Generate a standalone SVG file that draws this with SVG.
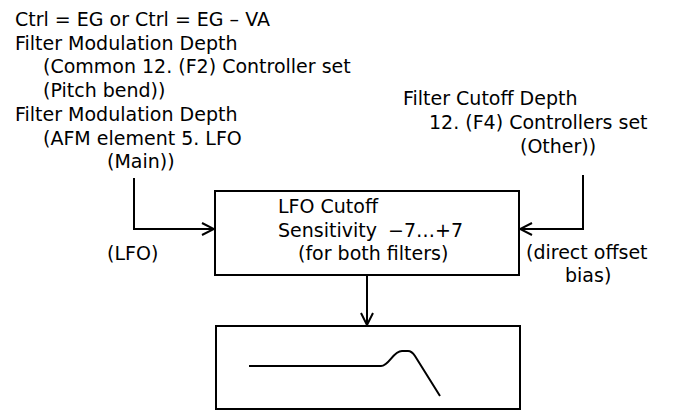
<svg xmlns="http://www.w3.org/2000/svg" width="674" height="411" viewBox="0 0 674 411">
<style>
  text { font-family: "DejaVu Sans", "Liberation Sans", sans-serif; font-size: 19px; fill: #000; }
  .box { fill: #fff; stroke: #000; stroke-width: 2; }
  .line { fill: none; stroke: #000; stroke-width: 2; }
</style>
<defs>
  <marker id="arr" viewBox="0 0 14 14" refX="13" refY="7" markerWidth="14" markerHeight="14" markerUnits="userSpaceOnUse" orient="auto">
    <path d="M1,1 L13,7 L1,13" fill="none" stroke="#000" stroke-width="2"/>
  </marker>
</defs>
<rect width="674" height="411" fill="#fff"/>
<g id="left-labels">
  <text x="15" y="26">Ctrl = EG or Ctrl = EG – VA</text>
  <text x="15" y="50">Filter Modulation Depth</text>
  <text x="43" y="73">(Common 12. (F2) Controller set</text>
  <text x="43" y="97">(Pitch bend))</text>
  <text x="15" y="121">Filter Modulation Depth</text>
  <text x="43" y="145">(AFM element 5. LFO</text>
  <text x="107" y="168">(Main))</text>
</g>
<g id="right-labels">
  <text x="403" y="105">Filter Cutoff Depth</text>
  <text x="429" y="129">12. (F4) Controllers set</text>
  <text x="520" y="153">(Other))</text>
</g>
<g id="lfo-label"><text x="107" y="260">(LFO)</text></g>
<g id="bias-label">
  <text x="526" y="259">(direct offset</text>
  <text x="565" y="282">bias)</text>
</g>
<g id="connectors">
  <path class="line" d="M134,178 L134,229 L214,229" marker-end="url(#arr)"/>
  <path class="line" d="M583,175 L583,229 L520,229" marker-end="url(#arr)"/>
  <path class="line" d="M367,276 L367,325" marker-end="url(#arr)"/>
</g>
<g id="sensitivity-node">
  <rect class="box" x="215" y="191" width="304" height="84"/>
  <text x="278" y="213">LFO Cutoff</text>
  <text x="278" y="237">Sensitivity<tspan x="388">−7…+7</tspan></text>
  <text x="298" y="260">(for both filters)</text>
</g>
<g id="filter-node">
  <rect class="box" x="216" y="326" width="304" height="83"/>
  <path class="line" d="M249,366 L381,366 C389,366 393,351 402,351 L408,351 C411,351 413,353 415,356 L440,396"/>
</g>
</svg>
